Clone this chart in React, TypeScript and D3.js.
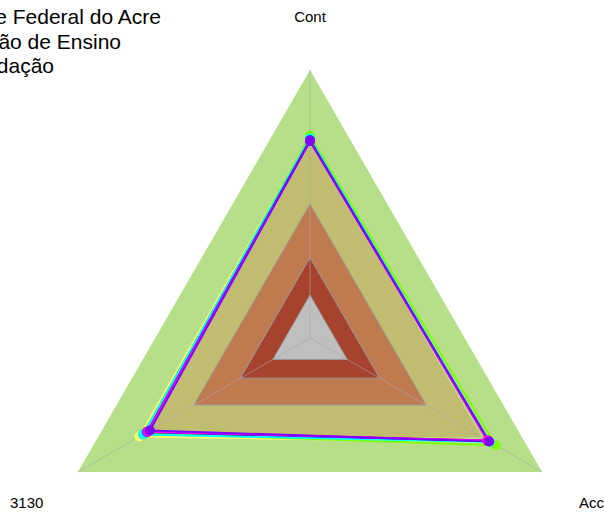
import React, { useEffect, useRef } from "react";
import * as d3 from "d3";

const axes = ["Cont", "Acc", "3130"];
const bandLimits = [0.16, 0.3, 0.5, 0.74, 1.0];
const bandColors = ["#bfbfbf", "#a6422d", "#c07a50", "#c1bd70", "#b7df89"];
const seriesColors = ["#ffff66", "#ff0000", "#000000", "#00ff00", "#80ff00", "#00ffff", "#0000ff", "#ff00ff", "#8000ff"];
// values per series: Cont, Acc, 3130
const seriesValues = [
  [0.75, 0.775, 0.735],
  [0.74, 0.765, 0.705],
  [0.74, 0.77, 0.70],
  [0.745, 0.772, 0.712],
  [0.755, 0.80, 0.71],
  [0.745, 0.775, 0.72],
  [0.738, 0.768, 0.702],
  [0.735, 0.765, 0.70],
  [0.735, 0.772, 0.69],
];
const titleLines = ["Universidade Federal do Acre", "Coordenação de Ensino", "Fundação"];

export default function App() {
  const ref = useRef<SVGSVGElement>(null);

  useEffect(() => {
    const svg = d3.select(ref.current);
    svg.selectAll("*").remove();
    const cx = 310, cy = 338;
    const r = d3.scaleLinear().domain([0, 1]).range([0, 268]);
    const angle = d3.scaleOrdinal<string, number>().domain(axes)
      .range([-Math.PI / 2, Math.PI / 6, (5 * Math.PI) / 6]);
    const pt = (a: string, v: number): [number, number] =>
      [cx + r(v) * Math.cos(angle(a)), cy + r(v) * Math.sin(angle(a))];
    const line = d3.line().curve(d3.curveLinearClosed);

    const g = svg.append("g");

    // bands, outer first
    for (let i = bandLimits.length - 1; i >= 0; i--) {
      g.append("path")
        .attr("d", line(axes.map(a => pt(a, bandLimits[i]))))
        .attr("fill", bandColors[i])
        .attr("stroke", i < bandLimits.length - 2 ? "#9a9a9a" : "none")
        .attr("stroke-width", 1);
    }

    // axis lines
    axes.forEach(a => {
      const [x, y] = pt(a, 1);
      g.append("line")
        .attr("x1", cx).attr("y1", cy).attr("x2", x).attr("y2", y)
        .attr("stroke", "#a8a8a8").attr("stroke-opacity", 0.6).attr("stroke-width", 1);
    });

    // series
    seriesValues.forEach((vals, i) => {
      g.append("path")
        .attr("d", line(axes.map((a, j) => pt(a, vals[j]))))
        .attr("fill", "none")
        .attr("stroke", seriesColors[i])
        .attr("stroke-width", 2);
    });
    seriesValues.forEach((vals, i) => {
      axes.forEach((a, j) => {
        const [x, y] = pt(a, vals[j]);
        g.append("circle").attr("cx", x).attr("cy", y).attr("r", 5)
          .attr("fill", seriesColors[i]);
      });
    });

    // axis labels
    const labelPos: Record<string, [number, number, string]> = {
      "Cont": [310, 22, "middle"],
      "Acc": [604, 508, "end"],
      "3130": [10, 508, "start"],
    };
    axes.forEach(a => {
      const [x, y, anchor] = labelPos[a];
      svg.append("text").attr("x", x).attr("y", y)
        .attr("text-anchor", anchor)
        .attr("font-family", "Liberation Sans, Arial, sans-serif")
        .attr("font-size", 15).attr("fill", "#000")
        .text(a);
    });

    // title (clipped on the left in the original)
    const ends = [161, 121, 54];
    titleLines.forEach((t, i) => {
      svg.append("text").attr("x", ends[i]).attr("y", 24 + i * 24.5)
        .attr("text-anchor", "end")
        .attr("font-family", "Liberation Sans, Arial, sans-serif")
        .attr("font-size", 21).attr("fill", "#000")
        .text(t);
    });
  }, []);

  return (
    <svg ref={ref} width={604} height={514}
      style={{ position: "absolute", left: 0, top: 0, background: "#fff" }} />
  );
}
